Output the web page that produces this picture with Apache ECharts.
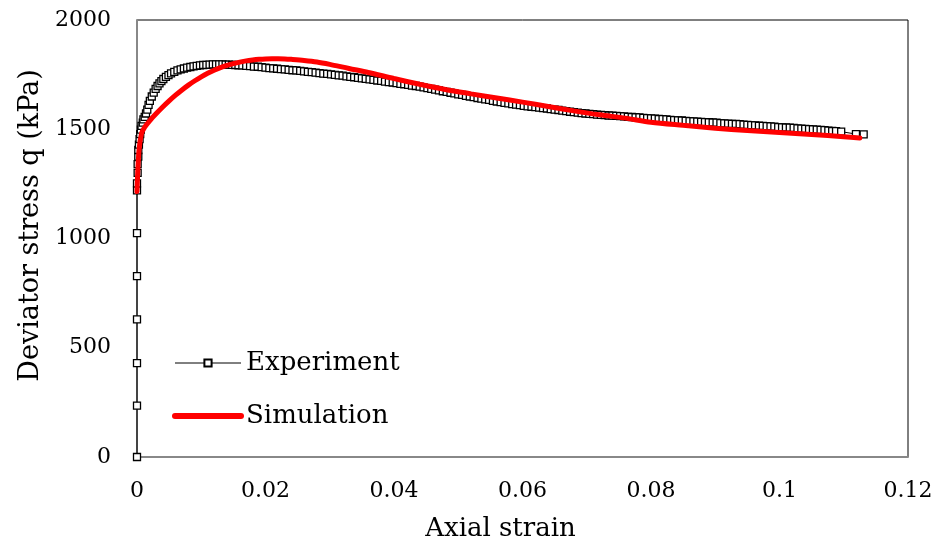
<!DOCTYPE html>
<html>
<head>
<meta charset="utf-8">
<title>Deviator stress vs axial strain</title>
<script src="https://cdn.jsdelivr.net/npm/echarts@6/dist/echarts.min.js"></script>
<style>
  html, body { margin: 0; padding: 0; background: #fff; }
  #chart { width: 942px; height: 547px; }
</style>
</head>
<body>
<div id="chart"></div>
<script>
// axis ticks
var xTicks = [0, 0.02, 0.04, 0.06, 0.08, 0.1, 0.12];
var yTicks = [0, 500, 1000, 1500, 2000];

// experiment: [axial strain, q (kPa)]
var experiment = [
  [0, 0], [0, 235], [0, 430], [0, 630], [0, 828], [0, 1025], [0, 1220], [0, 1252],
  [0.0001, 1300], [0.0001, 1340], [0.0002, 1375], [0.0002, 1405], [0.0003, 1430],
  [0.0004, 1455], [0.0005, 1478], [0.0006, 1498], [0.0007, 1515], [0.0009, 1530],
  [0.0010, 1545], [0.0012, 1557], [0.0014, 1572], [0.0016, 1590], [0.0018, 1612],
  [0.0020, 1630], [0.0023, 1650], [0.0026, 1668], [0.0029, 1685], [0.0032, 1698],
  [0.0035, 1710], [0.0038, 1720], [0.0041, 1730], [0.0045, 1740], [0.0049, 1748],
  [0.0053, 1756], [0.0058, 1763], [0.0063, 1769], [0.0068, 1774], [0.0073, 1778],
  [0.0078, 1782], [0.0083, 1785], [0.0088, 1788], [0.0093, 1790], [0.0098, 1792],
  [0.0103, 1794], [0.0108, 1795], [0.0113, 1796], [0.0118, 1797], [0.0123, 1797],
  [0.0128, 1797], [0.0133, 1797], [0.0138, 1796], [0.0143, 1796], [0.0148, 1795],
  [0.0153, 1794], [0.0158, 1793], [0.0164, 1792], [0.0170, 1790], [0.0176, 1789],
  [0.0182, 1787], [0.0188, 1786], [0.0194, 1784], [0.0200, 1782], [0.0206, 1780],
  [0.0212, 1779], [0.0218, 1777], [0.0224, 1775], [0.0230, 1774], [0.0236, 1772],
  [0.0242, 1770], [0.0248, 1769], [0.0254, 1767], [0.0260, 1765], [0.0266, 1763],
  [0.0272, 1761], [0.0278, 1759], [0.0284, 1757], [0.0290, 1755], [0.0296, 1753],
  [0.0302, 1751], [0.0308, 1749], [0.0314, 1747], [0.0320, 1745], [0.0326, 1742],
  [0.0332, 1740], [0.0338, 1738], [0.0344, 1735], [0.0350, 1733], [0.0356, 1731],
  [0.0362, 1728], [0.0368, 1726], [0.0374, 1723], [0.0380, 1721], [0.0386, 1718],
  [0.0392, 1716], [0.0398, 1714], [0.0404, 1711], [0.0410, 1708], [0.0416, 1706],
  [0.0422, 1703], [0.0428, 1700], [0.0434, 1698], [0.0440, 1695], [0.0446, 1692],
  [0.0452, 1688], [0.0458, 1685], [0.0464, 1681], [0.0470, 1678], [0.0476, 1674],
  [0.0482, 1671], [0.0488, 1667], [0.0494, 1664], [0.0500, 1660], [0.0506, 1657],
  [0.0512, 1653], [0.0518, 1650], [0.0524, 1647], [0.0530, 1643], [0.0536, 1640],
  [0.0542, 1637], [0.0548, 1634], [0.0554, 1630], [0.0560, 1627], [0.0566, 1624],
  [0.0572, 1621], [0.0578, 1618], [0.0584, 1615], [0.0590, 1613], [0.0596, 1610],
  [0.0602, 1607], [0.0608, 1605], [0.0614, 1603], [0.0620, 1601], [0.0626, 1599],
  [0.0632, 1597], [0.0638, 1595], [0.0644, 1592], [0.0650, 1590], [0.0656, 1588],
  [0.0662, 1585], [0.0668, 1583], [0.0674, 1580], [0.0680, 1578], [0.0686, 1576],
  [0.0692, 1574], [0.0698, 1572], [0.0704, 1570], [0.0710, 1569], [0.0716, 1567],
  [0.0722, 1566], [0.0728, 1565], [0.0734, 1563], [0.0740, 1562], [0.0746, 1561],
  [0.0752, 1560], [0.0758, 1559], [0.0764, 1557], [0.0770, 1556], [0.0776, 1555],
  [0.0782, 1554], [0.0788, 1552], [0.0794, 1551], [0.0800, 1550], [0.0806, 1549],
  [0.0812, 1547], [0.0818, 1546], [0.0824, 1545], [0.0830, 1543], [0.0836, 1542],
  [0.0842, 1541], [0.0848, 1540], [0.0854, 1538], [0.0860, 1537], [0.0866, 1536],
  [0.0872, 1535], [0.0878, 1534], [0.0884, 1533], [0.0890, 1532], [0.0896, 1531],
  [0.0902, 1530], [0.0908, 1528], [0.0914, 1527], [0.0920, 1526], [0.0926, 1525],
  [0.0932, 1524], [0.0938, 1523], [0.0944, 1521], [0.0950, 1520], [0.0956, 1519],
  [0.0962, 1518], [0.0968, 1516], [0.0974, 1515], [0.0980, 1514], [0.0986, 1513],
  [0.0992, 1512], [0.0998, 1510], [0.1004, 1509], [0.1010, 1508], [0.1016, 1507],
  [0.1022, 1506], [0.1028, 1504], [0.1034, 1503], [0.1040, 1502], [0.1046, 1501],
  [0.1052, 1499], [0.1058, 1498], [0.1064, 1497], [0.1070, 1496], [0.1076, 1494],
  [0.1082, 1492], [0.1088, 1491], [0.1096, 1489], [0.1119, 1478], [0.1131, 1477]
];

// simulation: [axial strain, q (kPa)]
var simulation = [
  [0, 1215], [0.0003, 1400], [0.0007, 1480], [0.0012, 1510], [0.002, 1540],
  [0.003, 1572], [0.004, 1602], [0.005, 1630], [0.006, 1656], [0.007, 1680],
  [0.008, 1702], [0.009, 1722], [0.010, 1740], [0.011, 1756], [0.012, 1770],
  [0.013, 1782], [0.014, 1792], [0.015, 1800], [0.016, 1807], [0.017, 1813],
  [0.018, 1817], [0.019, 1820], [0.020, 1822], [0.021, 1823], [0.022, 1823],
  [0.023, 1822], [0.024, 1820], [0.026, 1815], [0.028, 1808], [0.030, 1797],
  [0.033, 1778], [0.036, 1760], [0.040, 1732], [0.044, 1706], [0.048, 1682],
  [0.052, 1662], [0.056, 1643], [0.060, 1624], [0.064, 1604], [0.068, 1584],
  [0.072, 1566], [0.076, 1551], [0.080, 1532], [0.085, 1518], [0.090, 1505],
  [0.095, 1494], [0.100, 1485], [0.105, 1476], [0.110, 1466], [0.1125, 1460]
];

var FONT = 'DejaVu Serif';

var chart = echarts.init(document.getElementById('chart'));
var option = {
  animation: false,
  backgroundColor: '#fff',
  grid: {
    left: 137, right: 34, top: 20, bottom: 90,
    show: true, borderColor: '#000', borderWidth: 1
  },
  legend: {
    orient: 'vertical',
    left: 172, top: 348,
    padding: 0,
    itemWidth: 66, itemHeight: 9, itemGap: 23,
    textStyle: { fontFamily: FONT, fontSize: 26, color: '#000', lineHeight: 30 },
    data: [
      { name: 'Experiment', lineStyle: { width: 1, color: '#000' } },
      {
        name: 'Simulation',
        itemStyle: { color: 'rgba(0,0,0,0)', borderWidth: 0 },
        lineStyle: { width: 6, color: '#ff0000', cap: 'round' }
      }
    ]
  },
  xAxis: {
    type: 'value',
    min: xTicks[0], max: xTicks[xTicks.length - 1], interval: 0.02,
    name: 'Axial strain',
    nameLocation: 'middle', nameGap: 59,
    nameTextStyle: { fontFamily: FONT, fontSize: 26, color: '#000', padding: [0, 44, 0, 0] },
    axisLine: { lineStyle: { color: '#888', width: 2 } },
    axisTick: { show: false },
    splitLine: { show: false },
    axisLabel: {
      fontFamily: FONT, fontSize: 22, color: '#000', margin: 23,
      formatter: function (v) { return String(+v.toFixed(2)); }
    }
  },
  yAxis: {
    type: 'value',
    min: yTicks[0], max: yTicks[yTicks.length - 1], interval: 500,
    name: 'Deviator stress q (kPa)',
    nameLocation: 'middle', nameGap: 93,
    nameTextStyle: { fontFamily: FONT, fontSize: 27, color: '#000', padding: [0, 0, 0, 26] },
    axisLine: { lineStyle: { color: '#888', width: 2 } },
    axisTick: { show: false },
    splitLine: { show: false },
    axisLabel: {
      fontFamily: FONT, fontSize: 22, color: '#000', margin: 26,
      formatter: function (v) { return String(v); }
    }
  },
  series: [
    {
      name: 'Experiment',
      type: 'line',
      data: experiment,
      symbol: 'rect',
      symbolSize: 7,
      itemStyle: { color: '#fff', borderColor: '#000', borderWidth: 1.3 },
      lineStyle: { color: '#000', width: 1 },
      z: 2
    },
    {
      name: 'Simulation',
      type: 'line',
      data: simulation,
      showSymbol: false,
      symbol: 'none',
      smooth: 0.3,
      itemStyle: { color: '#ff0000' },
      lineStyle: { color: '#ff0000', width: 5, cap: 'round' },
      z: 3
    }
  ]
};
chart.setOption(option);
</script>
</body>
</html>
